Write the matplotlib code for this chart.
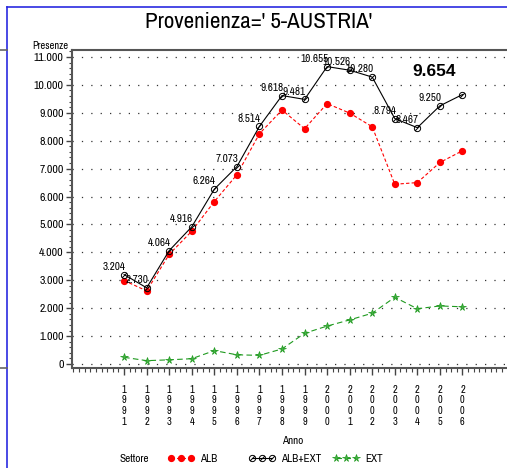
import matplotlib
matplotlib.use("Agg")
import matplotlib.pyplot as plt
import matplotlib.path as mpath
from matplotlib.ticker import MultipleLocator, FuncFormatter
from matplotlib.lines import Line2D

years = list(range(1991, 2007))
alb_ext = [3204, 2730, 4064, 4916, 6264, 7073, 8514, 9618, 9481, 10655, 10526, 10280, 8794, 8467, 9250, 9654]
alb = [2990, 2620, 3930, 4760, 5820, 6780, 8250, 9100, 8430, 9330, 8990, 8500, 6440, 6500, 7220, 7640]
ext = [240, 120, 150, 190, 480, 330, 310, 540, 1100, 1360, 1580, 1820, 2390, 1980, 2080, 2050]
labels_total = ["3.204", "2.730", "4.064", "4.916", "6.264", "7.073", "8.514", "9.618", "9.481",
                "10.655", "10.526", "10.280", "8.794", "8.467", "9.250", ""]
last_label = "9.654"
title = "Provenienza=' 5-AUSTRIA'"
y_ticks = list(range(0, 11001, 1000))

NARROW = ["Archivo Narrow", "Roboto Condensed", "DejaVu Sans"]

W, H = 507, 468
fig = plt.figure(figsize=(W / 100, H / 100), dpi=100)
ax = fig.add_axes([72 / W, (H - 368) / H, (W - 72) / W + 0.01, (368 - 50) / H])

# slashed circle marker
circ = mpath.Path.unit_circle()
slash = mpath.Path([(-0.8, -0.8), (0.8, 0.8)], [mpath.Path.MOVETO, mpath.Path.LINETO])
slashed = mpath.Path.make_compound_path(circ, slash)

red, = ax.plot(years, alb, color="#ff0000", lw=0.8, ls=(0, (3, 2)), marker="o", ms=4.2,
               mfc="#ff0000", mec="#ff0000", label="ALB", zorder=4)
blk, = ax.plot(years, alb_ext, color="black", lw=0.8, marker=slashed, ms=4.5,
               mfc="none", mec="black", mew=0.7, label="ALB+EXT", zorder=5)
grn, = ax.plot(years, ext, color="#1f9a1f", lw=0.8, ls=(0, (5, 3)), marker="*", ms=5.5,
               mfc="#46b046", mec="#1f9a1f", mew=0.5, label="EXT", zorder=4)

for x, y, s in zip(years, alb_ext, labels_total):
    if s:
        ax.annotate(s, (x, y), xytext=(1, 2), textcoords="offset points", ha="right", va="bottom",
                    fontsize=8, family=NARROW, zorder=6)

ax.text(2004.75, 10470, last_label, fontsize=12.5, fontweight="bold", family=["Liberation Sans", "DejaVu Sans"],
        ha="center", va="center")

ax.set_xlim(1988.69, 2008.2)
ax.set_ylim(-143, 11250)

for yv in y_ticks:
    ax.axhline(yv, color="#333333", lw=0.9, ls=(0, (1, 6.5)), zorder=1)

ax.set_yticks(y_ticks)
ax.yaxis.set_major_formatter(FuncFormatter(lambda v, p: f"{int(v):,}".replace(",", ".")))
ax.yaxis.set_minor_locator(MultipleLocator(200))
ax.set_xticks(years)
ax.set_xticklabels(["\n".join(str(y)) for y in years], linespacing=1.1)
ax.xaxis.set_minor_locator(MultipleLocator(0.25))

ax.tick_params(axis="y", which="major", length=4, width=1, direction="out", labelsize=8.5, pad=2, colors="#444444", labelcolor="black")
ax.tick_params(axis="y", which="minor", length=2, width=0.8, direction="out", colors="#444444")
ax.tick_params(axis="x", which="major", length=5, width=1, direction="out", labelsize=7.5, pad=7, colors="#444444", labelcolor="black")
ax.tick_params(axis="x", which="minor", length=3, width=0.8, direction="out", colors="#444444")
for lab in ax.get_xticklabels() + ax.get_yticklabels():
    lab.set_family(NARROW)

for side in ["left", "top", "bottom"]:
    ax.spines[side].set_color("#555555")
    ax.spines[side].set_linewidth(1.5)
ax.spines["right"].set_visible(False)

fig.text(259 / W, 1 - 22 / H, title, fontsize=16.5, family=NARROW, ha="center", va="center")
fig.text(68 / W, 1 - 46 / H, "Presenze", fontsize=7.5, family=NARROW, ha="right", va="center")
fig.text(293 / W, 1 - 441 / H, "Anno", fontsize=8, family=NARROW, ha="center", va="center")
fig.text(120 / W, 1 - 459 / H, "Settore", fontsize=8, family=NARROW, ha="left", va="center")

for handle, xpos in [(red, 168), (blk, 249), (grn, 333)]:
    fig.legend(handles=[handle], loc="center left", bbox_to_anchor=(xpos / W, 1 - 459 / H),
               frameon=False, numpoints=3, handlelength=2.4, handletextpad=0.5,
               borderpad=0, borderaxespad=0, prop={"family": NARROW, "size": 8})

# screenshot frame lines
fig.add_artist(Line2D([7 / W, 1], [1 - 7 / H, 1 - 7 / H], color="#2a2ae0", lw=1.2))
fig.add_artist(Line2D([7 / W, 7 / W], [0, 1 - 7 / H], color="#2a2ae0", lw=1.2))
fig.add_artist(Line2D([0, 7 / W], [1 - 50 / H, 1 - 50 / H], color="#666666", lw=1.2))
fig.add_artist(Line2D([0, 7 / W], [1 - 368 / H, 1 - 368 / H], color="#666666", lw=1.2))

fig.savefig("out.png", dpi=100)
